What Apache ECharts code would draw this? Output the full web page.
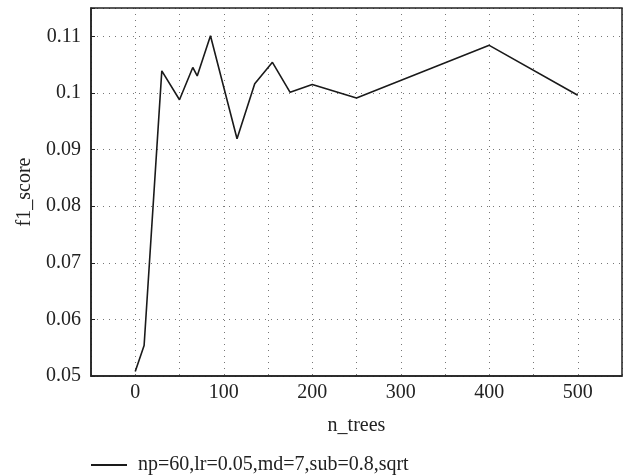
<!DOCTYPE html>
<html>
<head>
<meta charset="utf-8">
<script src="https://cdn.jsdelivr.net/npm/echarts@6/dist/echarts.min.js"></script>
<style>
  html, body { margin: 0; padding: 0; background: #fff; }
  #main { width: 625px; height: 476px; }
</style>
</head>
<body>
<div id="main"></div>
<script>
const nTrees = [0, 10, 30, 50, 65, 70, 85, 115, 135, 155, 175, 200, 250, 400, 500]
const f1Score = [0.0508, 0.0554, 0.1039, 0.0988, 0.1045, 0.1030, 0.1101, 0.0919, 0.1016, 0.1054, 0.1001, 0.1015, 0.0991, 0.1084, 0.0996]
const seriesName = 'np=60,lr=0.05,md=7,sub=0.8,sqrt'

const font = 'Liberation Serif'
const chart = echarts.init(document.getElementById('main'))

const dotted = { color: '#777', type: [1, 5], width: 1 }

const option = {
  animation: false,
  grid: { left: 91, right: 3, top: 8, bottom: 100, containLabel: false },
  legend: {
    left: 91,
    top: 455,
    padding: 0,
    icon: 'rect',
    itemWidth: 36,
    itemHeight: 2,
    textStyle: { fontFamily: font, fontSize: 20, color: '#222', padding: [0, 0, 0, 6] },
    data: [seriesName]
  },
  xAxis: {
    type: 'value',
    min: -50,
    max: 550,
    interval: 50,
    name: 'n_trees',
    nameLocation: 'middle',
    nameGap: 40,
    nameTextStyle: { fontFamily: font, fontSize: 20, color: '#222' },
    axisLine: { onZero: false, lineStyle: { color: '#222', width: 1.5 } },
    axisTick: { show: false },
    axisLabel: {
      fontFamily: font, fontSize: 20, color: '#222', margin: 7,
      formatter: v => (v % 100 === 0 ? String(v) : '')
    },
    splitLine: { show: true, lineStyle: dotted }
  },
  yAxis: {
    type: 'value',
    min: 0.05,
    max: 0.115,
    interval: 0.01,
    name: 'f1_score',
    nameLocation: 'middle',
    nameGap: 56,
    nameTextStyle: { fontFamily: font, fontSize: 20, color: '#222' },
    axisLine: { show: true, onZero: false, lineStyle: { color: '#222', width: 1.5 } },
    axisTick: { show: true, inside: true, length: 4, lineStyle: { color: '#222' } },
    axisLabel: {
      fontFamily: font, fontSize: 20, color: '#222', margin: 10,
      formatter: v => (v > 0.1125 ? '' : String(+v.toFixed(3)))
    },
    splitLine: { show: true, lineStyle: dotted }
  },
  series: [
    {
      name: seriesName,
      type: 'line',
      symbol: 'none',
      data: nTrees.map((x, i) => [x, f1Score[i]]),
      lineStyle: { color: '#1a1a1a', width: 1.6 },
      itemStyle: { color: '#1a1a1a' }
    }
  ]
}

chart.setOption(option)

// top and right frame of the box
chart.setOption({
  graphic: [{
    type: 'rect',
    shape: { x: 91, y: 8, width: 625 - 3 - 91, height: 476 - 100 - 8 },
    style: { fill: 'none', stroke: '#222', lineWidth: 1.5 },
    silent: true
  }]
})

window.addEventListener('resize', function () {
  chart.resize()
})
</script>
</body>
</html>
